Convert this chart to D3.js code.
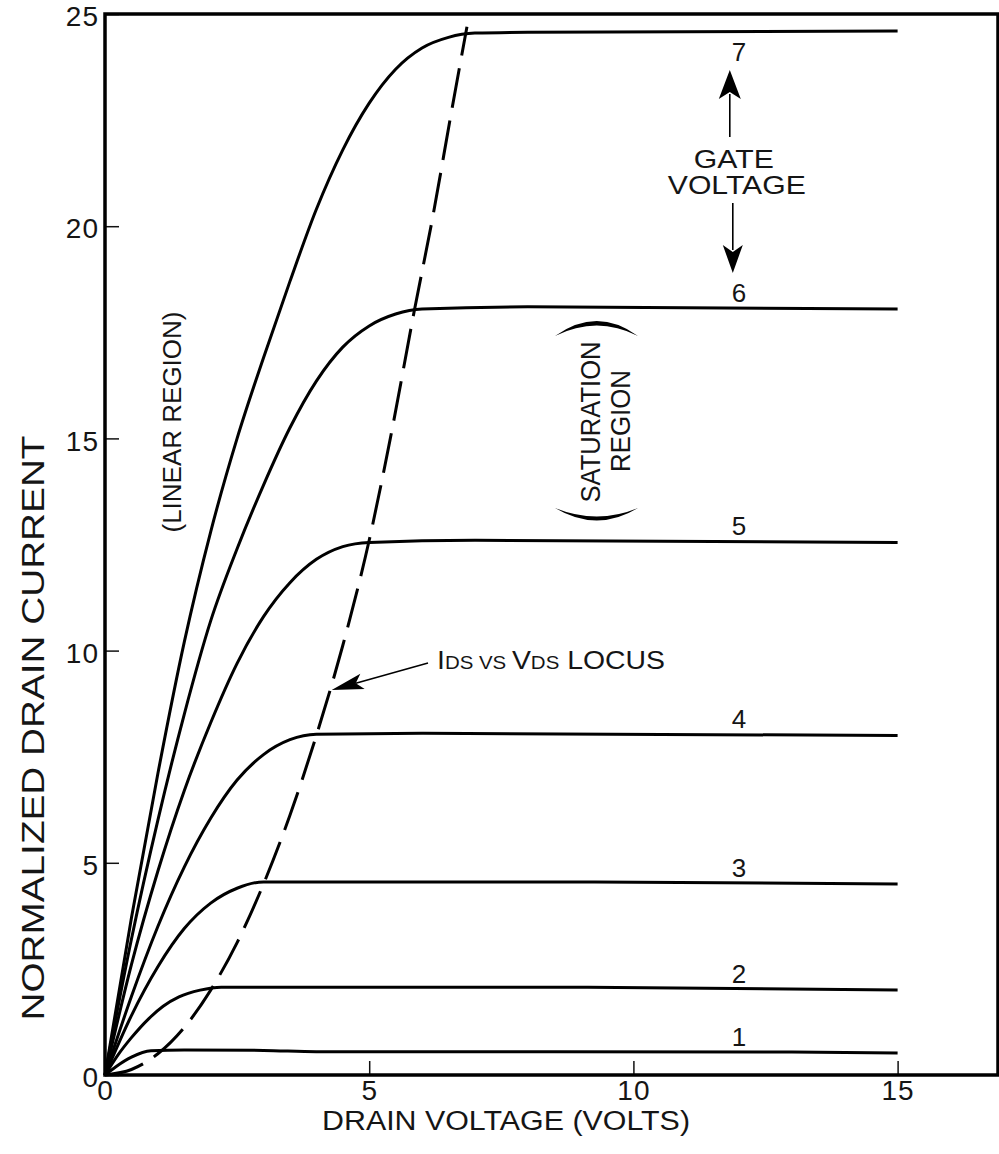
<!DOCTYPE html>
<html><head><meta charset="utf-8">
<script src="https://cdn.jsdelivr.net/npm/d3@7"></script>
<style>
body{margin:0;background:#fff;}
svg{display:block;}
text{font-family:"Liberation Sans",Arial,Helvetica,sans-serif;fill:#151515;}
</style>
</head><body>
<svg id="chart" width="999" height="1154"></svg>
<script>
// ---- data ----
const voltTicks = [0, 5, 10, 15];
const currentTicks = [0, 5, 10, 15, 20, 25];
const gateLabels = ["1", "2", "3", "4", "5", "6", "7"];
const xTitle = "DRAIN VOLTAGE (VOLTS)";
const yTitle = "NORMALIZED DRAIN CURRENT";

// [drain volts, normalized drain current]
const curve1 = [[0,0],[0.2,0.19],[0.5,0.42],[0.87,0.57],[1.5,0.59],[3,0.58],[4,0.55],[13,0.54],[15,0.52]];
const curve2 = [[0,0],[0.25,0.48],[0.5,0.88],[0.83,1.33],[1.1,1.62],[1.4,1.84],[1.8,2.0],[2.2,2.07],[9,2.07],[15,2.0]];
const curve3 = [[0,0],[0.5,1.4],[1,2.55],[1.5,3.45],[2,4.05],[2.5,4.4],[3,4.55],[9,4.55],[15,4.5]];
const curve4 = [[0,0],[0.5,1.85],[1,3.5],[1.5,4.9],[2,6.05],[2.5,6.95],[3,7.55],[3.5,7.9],[4,8.03],[6,8.05],[15,8.0]];
const curve5 = [[0,0],[0.5,2.6],[1,4.8],[1.5,6.7],[2,8.3],[2.5,9.7],[3,10.8],[3.5,11.6],[4,12.15],[4.5,12.45],[5,12.55],[7,12.6],[15,12.55]];
const curve6 = [[0,0],[0.5,3.2],[1,6.0],[1.5,8.5],[2,10.7],[2.5,12.4],[3,13.9],[3.5,15.25],[4,16.35],[4.5,17.15],[5,17.65],[5.5,17.93],[6,18.05],[8,18.1],[15,18.05]];
const curve7 = [[0,0],[0.5,3.7],[1,7.1],[1.5,10.2],[2,12.8],[2.5,15.0],[3,16.9],[3.5,18.7],[4,20.4],[4.5,21.8],[5,22.9],[5.5,23.7],[6,24.2],[6.5,24.45],[7,24.55],[8,24.57],[15,24.6]];
const locus = [[0,0],[0.5,0.13],[1,0.5],[1.5,1.12],[2,2.0],[2.5,3.12],[3,4.5],[3.5,6.12],[4,8.0],[4.5,10.12],[5,12.6],[5.4,15.0],[5.86,18.05],[6.2,20.2],[6.55,22.65],[6.85,24.7]];
const curves = [curve1, curve2, curve3, curve4, curve5, curve6, curve7];

// ---- drawing ----
const svg = d3.select("#chart");
const x = d3.scaleLinear().domain([0, 16.9]).range([105, 998]);
const y = d3.scaleLinear().domain([0, 25]).range([1075, 14]);

const line = d3.line().x(d => x(d[0])).y(d => y(d[1])).curve(d3.curveMonotoneX);

// axes with inward ticks
const yAxis = d3.axisLeft(y).tickValues(currentTicks).tickFormat(d3.format("d"))
  .tickSizeInner(-14).tickSizeOuter(0).tickPadding(6);
const gy = svg.append("g").attr("transform", `translate(${x(0)},0)`).call(yAxis);
gy.select(".domain").remove();
gy.selectAll(".tick line").attr("stroke", "#111").attr("stroke-width", 1.5);
gy.selectAll(".tick text").attr("font-size", 28).attr("letter-spacing", 1).attr("dy", "0.42em")
  .attr("fill", "#151515").style("font-family", '"Liberation Sans",Arial,sans-serif');

const xAxis = d3.axisBottom(x).tickValues(voltTicks).tickFormat(d3.format("d"))
  .tickSizeInner(-14).tickSizeOuter(0).tickPadding(5);
const gx = svg.append("g").attr("transform", `translate(0,${y(0)})`).call(xAxis);
gx.select(".domain").remove();
gx.selectAll(".tick line").attr("stroke", "#111").attr("stroke-width", 1.5);
gx.selectAll(".tick text").attr("font-size", 28).attr("letter-spacing", 1).attr("fill", "#151515")
  .style("font-family", '"Liberation Sans",Arial,sans-serif');

// frame
svg.append("rect")
  .attr("x", x(0)).attr("y", y(25))
  .attr("width", x(16.9) - x(0)).attr("height", y(0) - y(25))
  .attr("fill", "none").attr("stroke", "#000").attr("stroke-width", 3.5);

// curves
svg.append("g").selectAll("path").data(curves).join("path")
  .attr("d", line).attr("fill", "none").attr("stroke", "#000")
  .attr("stroke-width", 3).attr("stroke-linejoin", "round");

// locus (dashed)
svg.append("path").datum(locus).attr("d", line)
  .attr("fill", "none").attr("stroke", "#000").attr("stroke-width", 3)
  .attr("stroke-dasharray", "40,13");

// gate labels
const labelV = 12;
svg.append("g").selectAll("text").data(gateLabels).join("text")
  .attr("x", x(labelV)).attr("text-anchor", "middle").attr("font-size", 26)
  .attr("y", (d, i) => {
    const sat = curves[i][curves[i].length - 1][1];
    return i === 6 ? y(sat) + 30 : y(sat) - 7;
  })
  .text(d => d);

const stretch = (sel, len) => sel.attr("textLength", len).attr("lengthAdjust", "spacingAndGlyphs");

// GATE VOLTAGE annotation
const gxp = x(11.9);
stretch(svg.append("text").attr("x", gxp).attr("y", 168).attr("text-anchor", "middle")
  .attr("font-size", 25).text("GATE"), 80);
stretch(svg.append("text").attr("x", gxp + 3).attr("y", 194).attr("text-anchor", "middle")
  .attr("font-size", 25).text("VOLTAGE"), 138);
// up arrow
svg.append("line").attr("x1", gxp - 4).attr("y1", 137).attr("x2", gxp - 4).attr("y2", 94)
  .attr("stroke", "#000").attr("stroke-width", 1.6);
svg.append("path").attr("d", `M${gxp-4},70 L${gxp+7},99 L${gxp-4},92 L${gxp-15},99 Z`).attr("fill", "#000");
// down arrow
svg.append("line").attr("x1", gxp - 1).attr("y1", 203).attr("x2", gxp - 1).attr("y2", 250)
  .attr("stroke", "#000").attr("stroke-width", 1.6);
svg.append("path").attr("d", `M${gxp-1},273 L${gxp+9},245 L${gxp-1},252 L${gxp-11},245 Z`).attr("fill", "#000");

// LINEAR REGION
stretch(svg.append("text").attr("transform", `translate(181,422) rotate(-90)`).attr("text-anchor", "middle")
  .attr("font-size", 26).text("(LINEAR REGION)"), 221);

// SATURATION REGION with brackets
stretch(svg.append("text").attr("transform", `translate(600,422) rotate(-90)`).attr("text-anchor", "middle")
  .attr("font-size", 28).text("SATURATION"), 161);
stretch(svg.append("text").attr("transform", `translate(630,421) rotate(-90)`).attr("text-anchor", "middle")
  .attr("font-size", 28).text("REGION"), 102);
svg.append("path").attr("d", "M555,336 Q597,306 638,336 Q597,315 555,336 Z").attr("fill", "#000");
svg.append("path").attr("d", "M555,508 Q597,533 638,508 Q597,525 555,508 Z").attr("fill", "#000");

// IDS vs VDS locus annotation
const tip = [x(4.29), y(9.07)], tail = [428, 663];
const dx = tip[0] - tail[0], dy = tip[1] - tail[1], len = Math.hypot(dx, dy);
const ux = dx / len, uy = dy / len, px = -uy, py = ux;
const back = [tip[0] - 32 * ux, tip[1] - 32 * uy];
const notch = [tip[0] - 25 * ux, tip[1] - 25 * uy];
svg.append("line").attr("x1", tail[0]).attr("y1", tail[1]).attr("x2", notch[0]).attr("y2", notch[1])
  .attr("stroke", "#000").attr("stroke-width", 1.6);
svg.append("path").attr("d",
  `M${tip[0]},${tip[1]} L${back[0]+8*px},${back[1]+8*py} L${notch[0]},${notch[1]} L${back[0]-8*px},${back[1]-8*py} Z`)
  .attr("fill", "#000");
const lt = svg.append("text").attr("x", 437).attr("y", 669).attr("font-size", 25);
lt.append("tspan").text("I");
lt.append("tspan").attr("font-size", 18).text("DS");
lt.append("tspan").attr("font-size", 18).text(" VS ");
lt.append("tspan").text("V");
lt.append("tspan").attr("font-size", 18).text("DS");
lt.append("tspan").text(" LOCUS");
stretch(lt, 228);

// axis titles
stretch(svg.append("text").attr("x", 506).attr("y", 1130).attr("text-anchor", "middle")
  .attr("font-size", 27).text(xTitle), 368);
stretch(svg.append("text").attr("transform", `translate(44,728) rotate(-90)`).attr("text-anchor", "middle")
  .attr("font-size", 32).text(yTitle), 585);
</script>
</body></html>
